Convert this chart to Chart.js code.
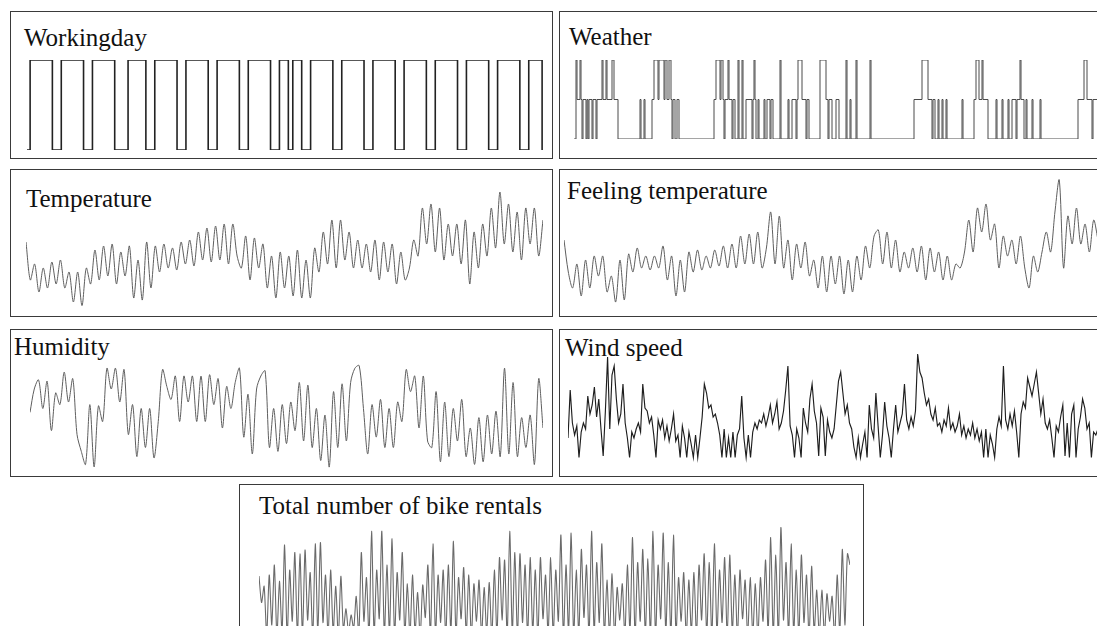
<!DOCTYPE html>
<html>
<head>
<meta charset="utf-8">
<script src="https://cdn.jsdelivr.net/npm/chart.js@4.4.0/dist/chart.umd.min.js"></script>
<style>
  body { margin: 0; width: 1097px; height: 626px; overflow: hidden; background: #fff; position: relative;
         font-family: "Liberation Serif", "Times New Roman", serif; }
  .box { position: absolute; border: 1px solid #3a3a3a; box-sizing: border-box; }
  .title { position: absolute; font-size: 25px; line-height: 25px; color: #111; white-space: nowrap; }
  canvas { position: absolute; }
</style>
</head>
<body>
<div class="box" style="left:10px;top:11px;width:543px;height:148px"></div>
<div class="box" style="left:559px;top:11px;width:560px;height:148px"></div>
<div class="box" style="left:10px;top:169px;width:543px;height:148px"></div>
<div class="box" style="left:559px;top:169px;width:560px;height:148px"></div>
<div class="box" style="left:10px;top:329px;width:543px;height:148px"></div>
<div class="box" style="left:559px;top:329px;width:560px;height:148px"></div>
<div class="box" style="left:239px;top:484px;width:625px;height:220px"></div>

<div class="title" style="left:24px;top:25px">Workingday</div>
<div class="title" style="left:569px;top:24px">Weather</div>
<div class="title" style="left:26px;top:186px">Temperature</div>
<div class="title" style="left:567px;top:178px">Feeling temperature</div>
<div class="title" style="left:14px;top:334px">Humidity</div>
<div class="title" style="left:565px;top:335px">Wind speed</div>
<div class="title" style="left:259px;top:493px">Total number of bike rentals</div>

<canvas id="wd"></canvas>
<canvas id="weather"></canvas>
<canvas id="temp"></canvas>
<canvas id="feel"></canvas>
<canvas id="hum"></canvas>
<canvas id="wind"></canvas>
<canvas id="total"></canvas>

<script>
// 1 = working day, one value per day
const workingday = [0,
  1,1,1,1,1,0,0, 1,1,1,1,1,0,0, 1,1,1,1,1,0,0, 0,1,1,1,1,0,0,
  1,1,1,1,1,0,0, 1,1,1,1,1,0,0, 1,1,1,1,1,0,0, 1,1,1,1,1,0,0,
  1,1,0,1,1,0,0, 1,1,1,1,1,0,0, 1,1,1,1,1,0,0, 1,1,1,1,1,0,0,
  1,1,1,1,1,0,0, 1,1,1,1,1,0,0, 1,1,1,1,1,0,0, 1,1,1,1,1,0,0,
  1,1,1,0];

// weather situation 1..3, one value per pixel column
const weather = [
  1,1,3,2,2,2,3,2,1,2, 2,2,1,2,1,2,2,2,1,2, 2,2,1,2,2,2,2,2,3,2, 2,2,3,2,2,2,2,2,3,3, 2,2,2,2,
  1,1,1,1,1,1,1,1,1,1, 1,1,1,1,1,1,1,1,1,1, 1,1,
  2,1,1,1,2,1,1,1,1,1,1,1,2,2,
  3,3,3,3,2,3,3,3,3,3, 2,3,3,2,2,3,3,2,1,2, 2,1,1,2,2,1,
  1,1,1,1,1,1,1,1,1,1, 1,1,1,1,1,1,1,1,1,1, 1,1,1,1,1,1,1,1,1,1, 1,1,1,1,
  2,2,3,3,3,3,2,3,3,2,1,2,2,2,3,2,2,2,1,2,
  2,1,1,1,3,1,1,1,3,1,1,1,2,2,2,2,2,2,1,2,
  3,2,1,1,2,1,1,1,1,1,2,1,1,2,2,2,1,2,2,1,
  1,1,1,1,1,1,3,1,1,1,1,1,1,1,2,1,1,1,2,2,
  2,2,1,2,3,3,3,3,2,2,2,2,1,2,2,1,
  1,1,1,1,1,1,1,1,1,1,
  3,3,3,3,3,3,2,2,1,2,2,2,1,1,1,1,2,2,2,1,
  1,1,1,1,1,1,3,1,1,1,2,1,1,1,1,1,3,1,
  1,1,1,1,1,1,1,1,1,1,1,1, 3,1,
  1,1,1,1,1,1,1,1,1,1, 1,1,1,1,1,1,1,1,1,1, 1,1,1,1,1,1,1,1,1,1, 1,1,1,1,1,1,1,1,1,1, 1,1,
  2,2,2,2,2,2,2,2, 3,3,3,3,3,3, 2,2,2,2,
  1,2,2,1,1,1,2,1,1,1,2,1,1,1,2,1,1,1,
  1,1,1,1,1,1,1,1,1,1,1,1,
  2,1,1,1,
  1,1,1,1,1,1,1,1,
  2,2,3,3,3,2,2,2,3,2,2,2,2,2,
  1,1,1,1,1,1,1,1,
  2,1,1,1,1,1,2,1,1,1,1,1,2,1,1,1,2,2,2,2,
  1,2,2,2,3,2,2,2,1,1,2,1,1,1,1,1,2,1,1,1,
  1,1,1,1,2,1,
  1,1,1,1,1,1,1,1,1,1, 1,1,1,1,1,1,1,1,1,1, 1,1,1,1,1,1,1,1,1,1, 1,1,1,1,1,1,
  2,2,2,2,2,2,3,3,3,2,2,2,2,2,1,2,2,2,2,2,1,1];

// temperature, deg C
const temperature = [
  19.5,10,14,7,13,8,14.5,9,15,8, 12,4.5,12,3.6,13,9,17.5,10,18.5,11,
  19,9,17,11,18.5,5.5,15,5,19.5,8, 18.5,12,19,13,18,12.5,19.5,14,20,13.5,
  22,15,23,14.5,23.5,15,24,14,24,16, 13,21,10,20.5,13,19,8,16,5.5,17,
  8,16,6,17.5,5.5,15,5.5,18,12,22, 14,25,13,25,15,22,13,20,13,19,
  12,20,10,19.5,12,19,9,17,10,13, 20,16,28,19,29,17,28,15,24,16,
  24,14,25,9,22,13,24,16,28,18, 32,19,29,17,27,15,28,19,28,16, 25];

// feeling temperature, deg C
const feelingTemp = [
  20,12,8,14,6,15,8,16,11,16, 7,11,4.5,15,5,16.5,12,18,13,16,
  12.5,16,13,18.5,10,16,6,15,7,17, 12,17.5,12.5,16,13,17.5,13.5,18.5,13,19,
  13,21,14,21.5,14,22,13,18,27,14, 26,13,20,10,19,13,19.5,11,15,8,
  16,7,16,9,16,6.5,15,7,16,10, 18.5,13,21,22.5,14,22,13,20,12,17,
  13,18,12,18.5,10,18,12,17,10,16, 10,14,13,17,25,17,28,22,29,20,
  24,13,21,16,20,14,21,13,8,16, 12,17,22,17,27,35,13,26,19,28,
  19,24,17,25,20];

// relative humidity, %
const humidity = [
  52,70,77,55,76,38,67,58,83,60, 78,35,22,12,58,10,57,45,86,70,
  86,60,85,35,58,18,55,25,55,17, 45,85,72,62,80,45,80,60,80,45,
  80,45,81,58,78,40,72,55,75,86, 33,66,20,70,80,84,25,55,22,58,
  28,60,38,75,30,73,25,55,15,50, 10,68,25,74,30,75,86,88,55,20,
  58,33,62,25,55,25,60,45,85,68, 80,40,80,30,25,68,14,60,18,55,
  30,62,18,40,12,48,14,50,20,53, 18,86,20,75,18,48,25,50,12,78,
  40];

// wind speed, km/h
const windSpeed = [
  9,25,14,10,13,2.5,11,14,12,23, 17,20,26,16,22,12,3,18,36,12,
  30,33,22,14,17,27,14,9,2.5,11, 9,12,14,11,27,19,18,14,16,10,
  2.5,15,12,15,9,13,8,12,17,8, 10,2.5,13,9,2.5,11,7,2.5,10,2.5,
  9,16,27,24,19,20,16,17,14,10, 2.5,12,2.5,9,2.5,11,2.5,10,12,23,
  9,2.5,10,2.5,11,14,12,15,14,17, 13,16,20,14,17,21,12,14,18,25,
  33,13,10,2.5,12,9,2.5,19,14,11, 22,27,18,14,3,19,16,3,15,11,
  9,12,20,28,31,24,17,20,14,12, 6,2.5,9,2.5,7,11,2.5,20,12,9,
  24,13,2.5,10,21,13,9,2.5,12,20, 11,14,17,27,15,12,16,13,18,37,
  31,29,24,20,22,17,15,19,13,14, 11,15,13,19,12,14,11,13,17,10,
  13,9,12,10,14,9,12,8,11,2.5, 12,2.5,10,7,2.5,12,16,13,33,15,
  12,17,13,18,11,2.5,17,21,19,29, 26,23,27,31,24,17,22,14,12,15,
  9,2.5,13,11,16,20,3,14,2.5,17, 20,2.5,12,16,22,19,12,14,2.5,11,
  10,12];

// bike rentals: peak counts and the lows between them
const rentalPeaks = [
  512,430,520,600,470,760,560,700,690,720, 540,770,780,520,560,430,510,250,200,350,
  700,500,870,560,870,600,810,540,700,450, 520,380,440,600,770,520,560,600,790,500,
  580,520,450,480,420,460,560,660,640,870, 700,690,600,660,560,660,520,660,560,840,
  600,855,560,725,600,870,620,770,480,530, 420,450,600,820,620,725,650,870,600,855,
  620,840,500,540,480,540,600,690,620,770, 560,660,680,520,560,480,500,450,500,640,
  820,680,900,620,770,560,680,520,590,400, 400,370,350,520,725,690];
const rentalLows = [
  300,40,120,30,60,20,150,30,40,160, 20,50,140,30,60,20,80,60,90,30,
  150,20,40,170,30,50,20,160,40,30, 60,20,180,30,40,140,20,60,30,170,
  40,20,150,30,60,20,40,160,30,50, 20,140,30,60,20,170,40,30,150,20,
  60,30,40,180,20,50,140,30,40,20, 160,30,60,20,150,40,30,20,170,60,
  30,40,150,20,60,30,160,40,20,50, 140,30,60,20,170,30,40,20,150,60,
  30,20,160,40,50,30,140,20,60,30, 40,150,20,60,120];
const rentalLast = 600;

const rentals = [];
rentalPeaks.forEach((p, i) => {
  rentals.push(p);
  if (i < rentalLows.length) rentals.push(rentalLows[i]);
});
rentals.push(rentalLast);

// plot: page rectangle of the plot area, x/y: axis ranges
function drawSeries(id, values, plot, x, y, style) {
  const pad = 4;
  const canvas = document.getElementById(id);
  const left = Math.round(plot.left) - pad;
  const top = Math.round(plot.top) - pad;
  const w = Math.round(plot.right) - Math.round(plot.left) + pad * 2;
  const h = Math.round(plot.bottom) - Math.round(plot.top) + pad * 2;
  canvas.style.left = left + "px";
  canvas.style.top = top + "px";
  canvas.width = w;
  canvas.height = h;
  canvas.style.width = w + "px";
  canvas.style.height = h + "px";

  new Chart(canvas.getContext("2d"), {
    type: "line",
    data: {
      datasets: [{
        data: values.map((v, i) => ({ x: i, y: v })),
        borderColor: style.color,
        borderWidth: style.width,
        pointRadius: 0,
        fill: false,
        stepped: style.stepped || false,
        tension: style.tension || 0
      }]
    },
    options: {
      responsive: false,
      animation: false,
      events: [],
      layout: { padding: pad },
      scales: {
        x: { type: "linear", display: false, min: x[0], max: x[1] },
        y: { display: false, min: y[0], max: y[1] }
      },
      plugins: {
        legend: { display: false },
        tooltip: { enabled: false }
      }
    }
  });
}

drawSeries("wd", workingday, { left: 27, right: 542.6, top: 60, bottom: 150 },
  [0.3, 116.2], [0, 1], { color: "#222", width: 1.6, stepped: true });

drawSeries("weather", weather, { left: 574, right: 1100, top: 60, bottom: 139 },
  [0, 526], [1, 3], { color: "#4a4a4a", width: 1, stepped: true });

drawSeries("temp", temperature, { left: 26, right: 543, top: 160, bottom: 320 },
  [0, 120], [0, 40], { color: "#5e5e5e", width: 1, tension: 0.3 });

drawSeries("feel", feelingTemp, { left: 564, right: 1098, top: 160, bottom: 320 },
  [0, 124], [0, 40], { color: "#5e5e5e", width: 1, tension: 0.3 });

drawSeries("hum", humidity, { left: 30, right: 543, top: 350, bottom: 480 },
  [0, 120], [0, 100], { color: "#5e5e5e", width: 1, tension: 0.3 });

drawSeries("wind", windSpeed, { left: 568, right: 1098, top: 345, bottom: 465 },
  [0, 241], [0, 40], { color: "#1e1e1e", width: 1.15 });

drawSeries("total", rentals, { left: 259, right: 850, top: 515, bottom: 640 },
  [0, rentals.length - 1], [0, 1000], { color: "#6a6a6a", width: 1.1, tension: 0.25 });
</script>
</body>
</html>
